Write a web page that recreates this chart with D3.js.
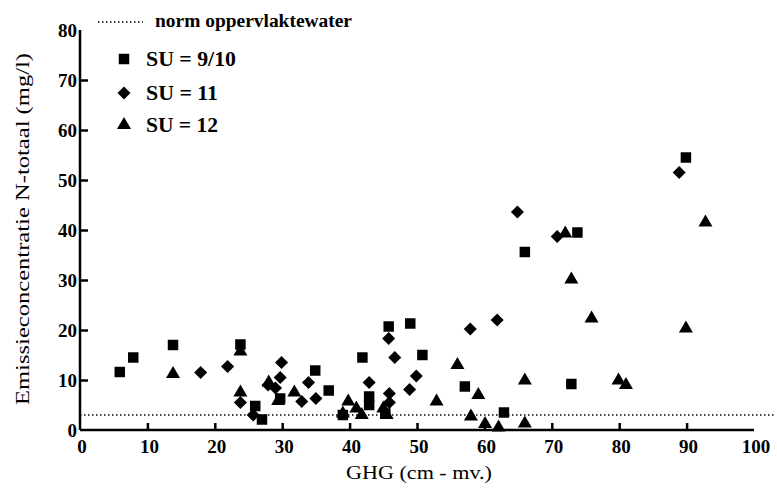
<!DOCTYPE html>
<html>
<head>
<meta charset="utf-8">
<script src="https://cdn.jsdelivr.net/npm/d3@7"></script>
<style>
  body { margin: 0; background: #fff; }
  text { font-family: "Liberation Serif", "DejaVu Serif", serif; fill: #000; }
</style>
</head>
<body>
<script>
// data: [GHG, N-totaal]
var su910 = [[5.9,11.6],[7.9,14.5],[13.8,17],[23.8,17.1],[26,4.8],[27,2.1],[29.7,6.3],
  [34.9,11.9],[36.9,7.9],[39,3],[41.9,14.5],[42.9,6.7],[42.9,5],[45.3,3.3],[45.8,20.7],
  [49,21.3],[50.8,15],[57.1,8.7],[62.9,3.5],[66,35.6],[72.9,9.2],[73.8,39.5],[89.9,54.5]];
var su11 = [[17.9,11.5],[21.9,12.7],[23.8,5.5],[25.7,3],[27.9,9],[29,8.4],[29.7,10.5],
  [29.9,13.5],[32.9,5.7],[33.9,9.5],[35,6.3],[42.9,9.5],[45.8,18.3],[45.9,7.3],[45.9,5.5],
  [46.7,14.5],[48.9,8.1],[49.9,10.8],[57.9,20.2],[61.9,22],[64.9,43.6],[70.8,38.7],[88.9,51.5]];
var su12 = [[13.8,11.2],[23.8,15.7],[23.8,7.5],[28,9.5],[29.4,5.8],[31.8,7.5],[39,3.3],
  [39.8,5.7],[41,4.3],[41.8,3],[45,4.3],[45.5,3],[52.9,5.7],[56,13],[58,2.7],[59.1,7],
  [60.1,1.2],[62.1,0.5],[66,1.3],[66,9.9],[72,39.3],[72.9,30.1],[75.9,22.3],[79.9,9.9],
  [81,9],[89.9,20.3],[92.8,41.5]];
var norm = 3;
var xTicks = [0,10,20,30,40,50,60,70,80,90,100];
var yTicks = [0,10,20,30,40,50,60,70,80];

var width = 777, height = 493;
var svg = d3.select('body').append('svg')
    .attr('width', width)
    .attr('height', height);

var x = d3.scaleLinear().domain([0, 100]).range([80, 754]);
var y = d3.scaleLinear().domain([0, 80]).range([430, 30]);

// axes, ticks inward
var xAxis = svg.append('g').attr('transform', 'translate(0,430)')
    .call(d3.axisTop(x).tickValues(xTicks.slice(1, 10)).tickSize(7).tickFormat(''));
xAxis.select('.domain').attr('d', 'M' + x(0) + ',0H' + x(100));
var yAxis = svg.append('g').attr('transform', 'translate(80,0)')
    .call(d3.axisRight(y).tickValues(yTicks.slice(1, 8)).tickSize(8).tickFormat(''));
yAxis.select('.domain').attr('d', 'M0,' + y(0) + 'V' + y(80));
svg.selectAll('.domain, .tick line').attr('stroke', '#000').attr('stroke-width', 2.5);

svg.selectAll('.xl').data(xTicks).enter().append('text')
    .attr('x', function (d) { return x(d) + 2; })
    .attr('y', 453)
    .attr('text-anchor', 'middle')
    .style('font-size', '19px').style('font-weight', 'bold')
    .text(function (d) { return d; });
svg.selectAll('.yl').data(yTicks).enter().append('text')
    .attr('x', 77)
    .attr('y', function (d) { return y(d) + 7; })
    .attr('text-anchor', 'end')
    .style('font-size', '19px').style('font-weight', 'bold')
    .text(function (d) { return d; });

svg.append('text')
    .attr('x', 419).attr('y', 479)
    .attr('text-anchor', 'middle')
    .attr('textLength', 146).attr('lengthAdjust', 'spacingAndGlyphs')
    .style('font-size', '18px')
    .text('GHG (cm - mv.)');
svg.append('text')
    .attr('transform', 'translate(29,229) rotate(-90)')
    .attr('text-anchor', 'middle')
    .attr('textLength', 352).attr('lengthAdjust', 'spacingAndGlyphs')
    .style('font-size', '18px')
    .text('Emissieconcentratie N-totaal (mg/l)');

// norm line
svg.append('line')
    .attr('x1', x(0)).attr('x2', x(103))
    .attr('y1', y(norm)).attr('y2', y(norm))
    .attr('stroke', '#000').attr('stroke-width', 1.3)
    .attr('stroke-dasharray', '1.5,2.5');

var sq = d3.symbol().type(d3.symbolSquare).size(110);
var di = d3.symbol().type(d3.symbolSquare).size(85); // rotated below
var tr = d3.symbol().type(d3.symbolTriangle).size(85);

function draw(data, sym, rot) {
  svg.append('g').selectAll('path').data(data).enter().append('path')
    .attr('d', sym)
    .attr('transform', function (d) { return 'translate(' + x(d[0]) + ',' + y(d[1]) + ') rotate(' + rot + ')'; })
    .attr('fill', '#000');
}
draw(su910, sq, 0);
draw(su11, di, 45);
draw(su12, tr, 0);

// legend
var lg = svg.append('g');
lg.append('line').attr('x1', 98).attr('x2', 143).attr('y1', 22).attr('y2', 22)
    .attr('stroke', '#000').attr('stroke-width', 1.3).attr('stroke-dasharray', '1.5,2.5');
lg.append('text').attr('x', 155).attr('y', 27)
    .attr('textLength', 197).attr('lengthAdjust', 'spacingAndGlyphs')
    .style('font-size', '18px').style('font-weight', 'bold')
    .text('norm oppervlaktewater');
var items = [['SU = 9/10', sq, 59, 0, 90], ['SU = 11', di, 93, 45, 72], ['SU = 12', tr, 125, 0, 72]];
items.forEach(function (it) {
  lg.append('path').attr('d', it[1])
    .attr('transform', 'translate(124,' + it[2] + ') rotate(' + it[3] + ')').attr('fill', '#000');
  lg.append('text').attr('x', 146).attr('y', it[2] + 7)
    .attr('textLength', it[4]).attr('lengthAdjust', 'spacingAndGlyphs')
    .style('font-size', '20px').style('font-weight', 'bold')
    .text(it[0]);
});
</script>
</body>
</html>
